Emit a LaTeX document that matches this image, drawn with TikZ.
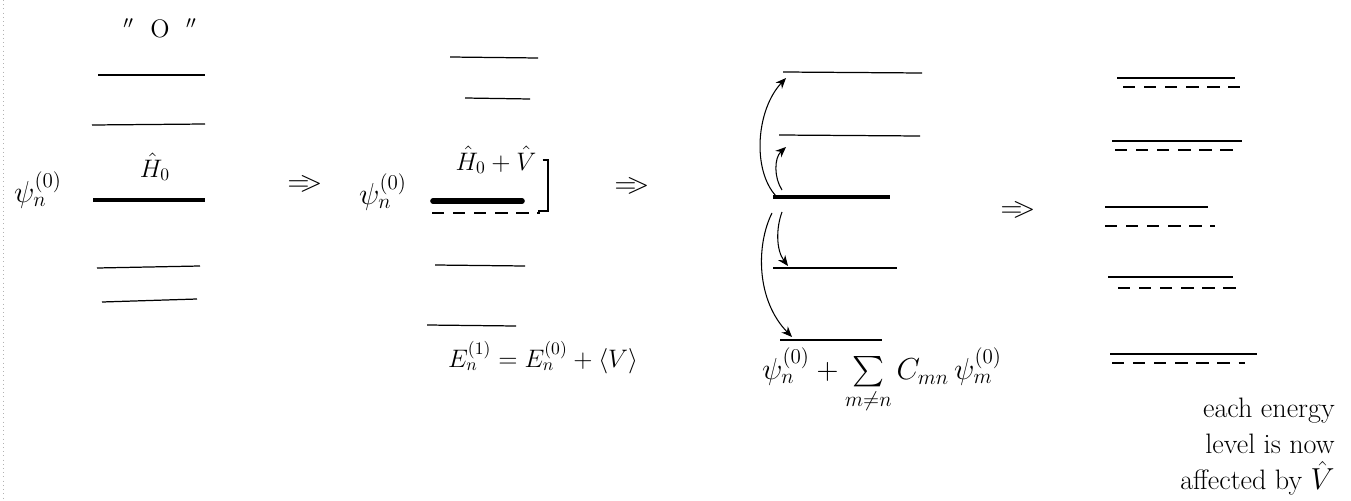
\documentclass[tikz,border=0pt]{standalone}
\usepackage{amsmath}
\usetikzlibrary{arrows.meta, positioning}

\begin{document}
\begin{tikzpicture}[x=0.02cm, y=-0.02cm,
    level/.style={line width=0.7pt},
    ground/.style={line width=1.8pt},
    shifted/.style={line width=0.7pt, dash pattern=on 7pt off 5pt},
    jump/.style={-{Stealth[length=6pt, width=5pt]}, line width=0.6pt},
    lbl/.style={font=\Large},
    implies/.style={font=\LARGE}]
    \useasboundingbox (0,0) rectangle (1351,500);
    \draw[gray!60, dotted] (3,0) -- (3,500);

    % unperturbed spectrum
    \node[lbl] (ditto) at (160,28) {$''$ \ O \ $''$};
    \draw[level] (98,75) -- (205,75);
    \draw[level] (92,125) -- (205,124);
    \node[lbl] (hzero) at (155,167) {$\hat{H}_0$};
    \draw[ground] (93,200) -- (205,200);
    \node[font=\LARGE] (psiA) at (38,190) {$\psi_n^{(0)}$};
    \draw[level] (97,268) -- (200,266);
    \draw[level] (102,302) -- (197,299);

    \node[implies] (impA) at (305,184) {$=\!\!>$};

    % first order
    \draw[level] (450,57) -- (538,58);
    \draw[level] (465,98) -- (530,99);
    \node[lbl] (ham) at (496,160) {$\hat{H}_0+\hat{V}$};
    \node[font=\LARGE] (psiB) at (383,192) {$\psi_n^{(0)}$};
    \draw[line width=3.2pt, line cap=round] (433,201) -- (522,201);
    \draw[shifted] (432,213) -- (540,213);
    \draw[line width=0.8pt] (ham.east) -| (548,211) -- (538,211);
    \draw[level] (435,265) -- (525,266);
    \draw[level] (427,325) -- (516,326);
    \node[lbl] (eone) at (543,358) {$E_n^{(1)}=E_n^{(0)}+\langle V\rangle$};

    \node[implies] (impB) at (632,186) {$=\!\!>$};

    % mixing of states
    \coordinate (top) at (783,72);
    \coordinate (sec) at (779,135);
    \coordinate (gnd) at (773,197);
    \coordinate (low) at (773,268);
    \coordinate (bot) at (780,340);
    \draw[level] (top) -- (922,73);
    \draw[level] (sec) -- (920,136);
    \draw[ground] (gnd) -- (890,197);
    \draw[level] (low) -- (897,268);
    \draw[level] (bot) -- (882,340);
    \coordinate (upA) at (786,78);
    \coordinate (upB) at (786,147);
    \coordinate (dnA) at (788,266);
    \coordinate (dnB) at (792,337);
    \coordinate (srcA) at (776,196);
    \coordinate (srcB) at (782,190);
    \coordinate (srcC) at (782,212);
    \coordinate (srcD) at (772,213);
    \draw[jump] (srcA) .. controls (752,170) and (756,110) .. (upA);
    \draw[jump] (srcB) .. controls (774,178) and (774,158) .. (upB);
    \draw[jump] (srcC) .. controls (776,228) and (776,250) .. (dnA);
    \draw[jump] (srcD) .. controls (756,245) and (756,300) .. (dnB);
    \node[font=\LARGE] (expand) at (882,381)
        {$\psi_n^{(0)}+\sum\limits_{m\neq n} C_{mn}\,\psi_m^{(0)}$};

    \node[implies] (impC) at (1018,210) {$=\!\!>$};

    % perturbed spectrum
    \draw[level] (1117,78) -- (1235,78);
    \draw[shifted] (1123,87) -- (1240,87);
    \draw[level] (1112,141) -- (1242,141);
    \draw[shifted] (1115,150) -- (1240,150);
    \draw[level] (1105,207) -- (1208,207);
    \draw[shifted] (1105,226) -- (1215,226);
    \draw[level] (1108,277) -- (1233,277);
    \draw[shifted] (1118,288) -- (1237,288);
    \draw[level] (1110,354) -- (1257,354);
    \draw[shifted] (1112,363) -- (1245,363);
    \node[font=\fontsize{16pt}{20.5pt}\selectfont, align=right, anchor=north east,
          inner sep=0pt] (note) at (1335,398)
        {each energy\\level is now\\affected by $\hat{V}$};
\end{tikzpicture}
\end{document}
